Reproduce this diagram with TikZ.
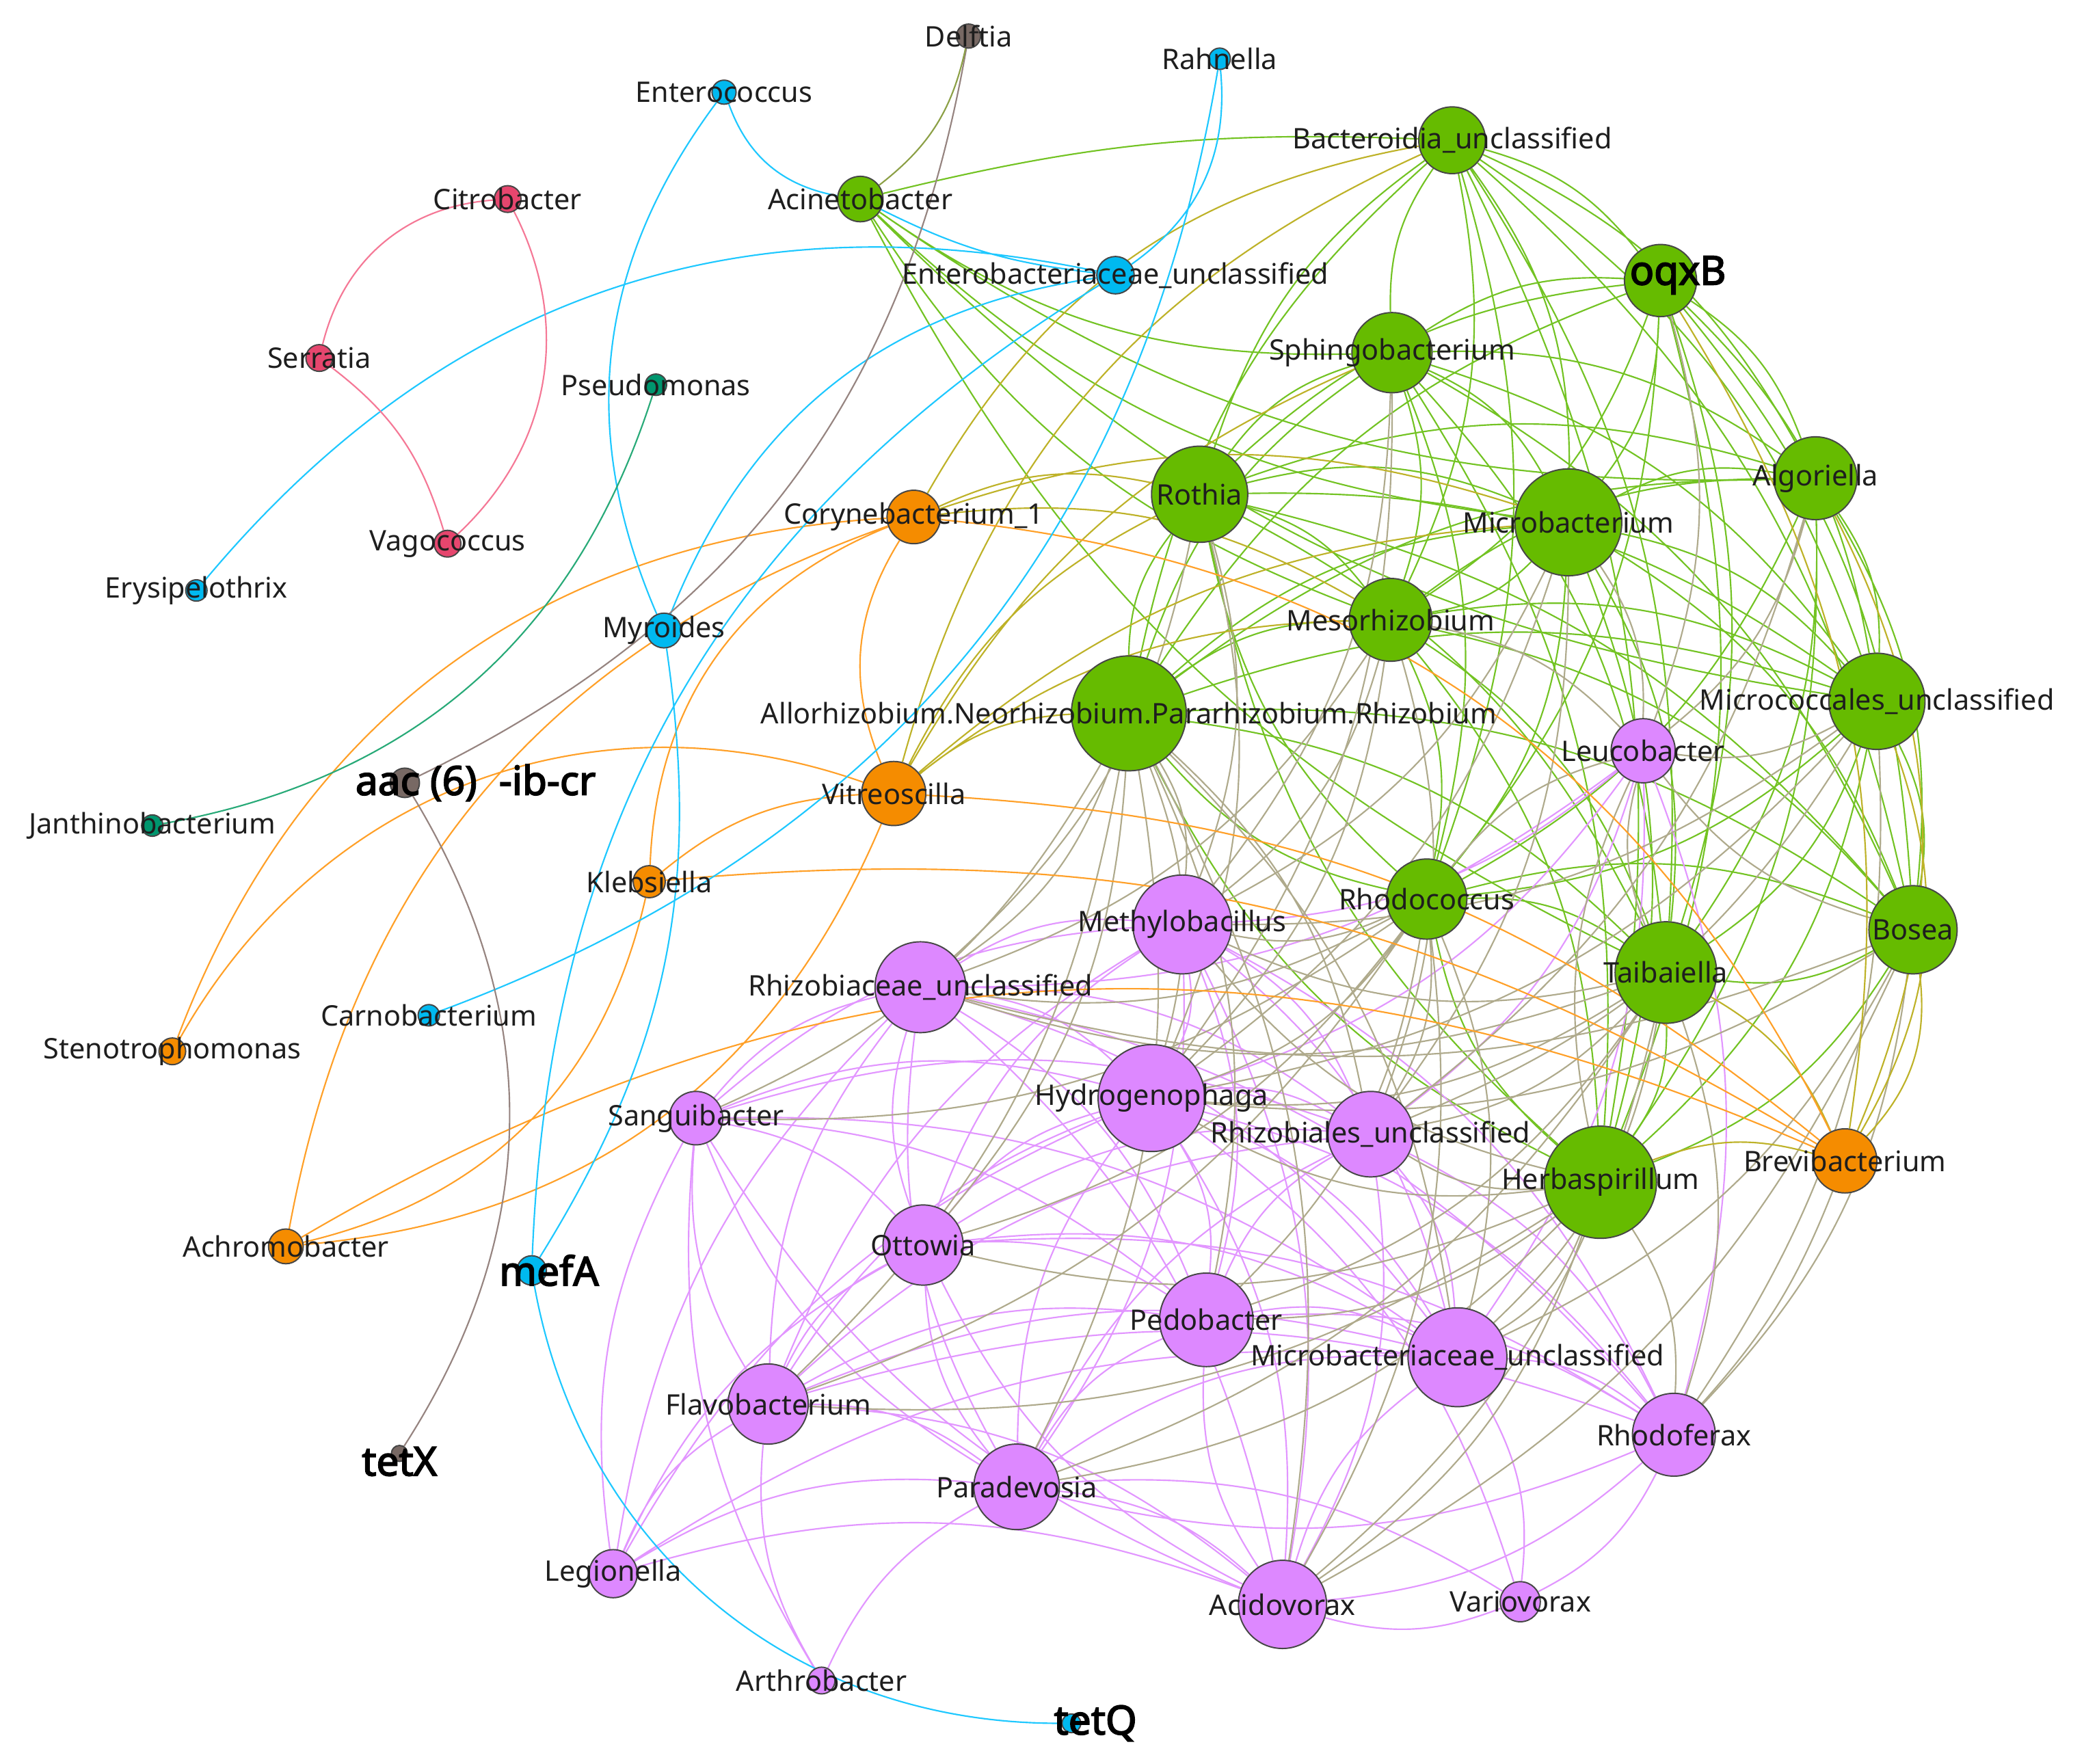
\documentclass[tikz,border=0pt]{standalone}
\usepackage{fontspec}
\setmainfont{Noto Sans}[AutoFakeBold=3]
\definecolor{ngreen}{RGB}{102,187,0}
\definecolor{nviolet}{RGB}{221,136,255}
\definecolor{norange}{RGB}{245,140,0}
\definecolor{ncyan}{RGB}{0,185,240}
\definecolor{npink}{RGB}{230,70,110}
\definecolor{nteal}{RGB}{0,150,110}
\definecolor{nbrown}{RGB}{120,105,100}
\definecolor{nline}{RGB}{70,70,70}
\definecolor{cgreen}{RGB}{115,195,35}
\definecolor{cviolet}{RGB}{226,150,255}
\definecolor{ckhaki}{RGB}{175,170,140}
\definecolor{colive}{RGB}{190,178,40}
\definecolor{corange}{RGB}{255,160,40}
\definecolor{ccyan}{RGB}{30,200,255}
\definecolor{cpink}{RGB}{245,120,150}
\definecolor{cteal}{RGB}{40,170,120}
\definecolor{cbrown}{RGB}{150,132,128}
\definecolor{cdolive}{RGB}{140,160,70}
\definecolor{ltext}{RGB}{30,30,30}
\pgfdeclarelayer{edges}
\pgfsetlayers{edges,main}
\begin{document}
\begin{tikzpicture}[x=0.5pt,y=-0.5pt,
  every node/.style={inner sep=0pt},
  bug/.style={circle,draw=nline,line width=0.5pt,minimum size=#1pt},
  gnode/.style={bug=#1,fill=ngreen},
  vnode/.style={bug=#1,fill=nviolet},
  onode/.style={bug=#1,fill=norange},
  cnode/.style={bug=#1,fill=ncyan},
  pnode/.style={bug=#1,fill=npink},
  tnode/.style={bug=#1,fill=nteal},
  bnode/.style={bug=#1,fill=nbrown},
  lbl/.style={text=ltext,font=\fontsize{10.6}{12}\selectfont},
  gene/.style={text=black,font=\fontsize{15}{18}\selectfont\bfseries},
  edge/.style={line width=0.55pt,bend left=18},
  eg/.style={edge,draw=cgreen},
  ev/.style={edge,draw=cviolet},
  ek/.style={edge,draw=ckhaki},
  eo/.style={edge,draw=colive},
  eor/.style={edge,draw=corange},
  ecy/.style={edge,draw=ccyan},
  epk/.style={edge,draw=cpink},
  etl/.style={edge,draw=cteal},
  ebr/.style={edge,draw=cbrown},
  edb/.style={edge,draw=cdolive}]
\useasboundingbox (0,0) rectangle (1560,1320);
% outer taxa and genes
\node[bnode=9] (de) at (725,27) {};
\node[cnode=9] (en) at (542,69) {};
\node[cnode=8] (ra) at (913,44) {};
\node[pnode=10] (ci) at (380,149) {};
\node[pnode=10] (se) at (239,268) {};
\node[pnode=10] (va) at (335,407) {};
\node[cnode=8] (er) at (147,442) {};
\node[tnode=8] (ps) at (491,288) {};
\node[tnode=8] (ja) at (114,618) {};
\node[gnode=17] (ac) at (644,149) {};
\node[cnode=14] (eb) at (835,206) {};
\node[onode=20] (co) at (684,387) {};
\node[cnode=13] (my) at (497,472) {};
\node[bnode=11] (aa) at (303,586) {};
\node[onode=24] (vi) at (669,594) {};
\node[onode=12] (kl) at (486,660) {};
\node[onode=10] (st) at (129,787) {};
\node[cnode=8] (ca) at (321,760) {};
\node[onode=13] (ah) at (214,933) {};
\node[cnode=11] (mf) at (398,951) {};
\node[bnode=6] (tx) at (299,1088) {};
\node[cnode=7] (tq) at (802,1290) {};
% green module
\node[gnode=25] (bu) at (1087,105) {};
\node[gnode=27] (oq) at (1243,210) {};
\node[gnode=30] (sp) at (1042,264) {};
\node[gnode=36] (ro) at (898,370) {};
\node[gnode=40] (mi) at (1174,391) {};
\node[gnode=31] (al) at (1359,358) {};
\node[gnode=31] (me) at (1041,464) {};
\node[gnode=43] (an) at (845,534) {};
\node[gnode=36] (mc) at (1405,525) {};
\node[gnode=30] (rc) at (1068,673) {};
\node[gnode=38] (ta) at (1247,728) {};
\node[gnode=33] (bo) at (1432,696) {};
\node[gnode=42] (he) at (1198,885) {};
\node[onode=24] (br) at (1381,869) {};
% violet module
\node[vnode=24] (le) at (1230,562) {};
\node[vnode=37] (mb) at (885,692) {};
\node[vnode=34] (rz) at (689,739) {};
\node[vnode=40] (hy) at (862,822) {};
\node[vnode=32] (rb) at (1026,849) {};
\node[vnode=20] (sa) at (521,837) {};
\node[vnode=30] (ot) at (691,932) {};
\node[vnode=35] (pe) at (903,988) {};
\node[vnode=37] (mx) at (1091,1016) {};
\node[vnode=30] (fl) at (575,1051) {};
\node[vnode=31] (rf) at (1253,1074) {};
\node[vnode=32] (pa) at (761,1113) {};
\node[vnode=18] (lg) at (459,1178) {};
\node[vnode=33] (av) at (960,1201) {};
\node[vnode=15] (vv) at (1138,1199) {};
\node[vnode=10] (ar) at (615,1258) {};
\begin{pgfonlayer}{edges}
\fill[white] (0,0) rectangle (1560,1320);
% green - green
\draw[eg] (bu) to (oq) (bu) to (al) (bu) to (mi) (bu) to (mc) (bu) to (bo) (bu) to (ta) (bu) to (he) (bu) to (me) (bu) to (rc) (sp) to (bu) (ro) to (bu) (an) to (bu);
\draw[eg] (oq) to (al) (oq) to (mc) (oq) to (bo) (oq) to (ta) (oq) to (he) (oq) to (rc) (oq) to (mi) (oq) to (me) (sp) to (oq) (ro) to (oq) (an) to (oq);
\draw[eg] (sp) to (mi) (sp) to (al) (sp) to (me) (sp) to (mc) (sp) to (rc) (sp) to (ta) (sp) to (bo) (sp) to (he) (ro) to (sp) (an) to (sp);
\draw[eg] (ro) to (mi) (ro) to (al) (ro) to (me) (ro) to (mc) (ro) to (ta) (ro) to (bo) (an) to (ro) (he) to (ro) (rc) to (ro);
\draw[eg] (mi) to (al) (mi) to (mc) (mi) to (me) (mi) to (bo) (mi) to (ta) (mi) to (he) (mi) to (rc) (an) to (mi);
\draw[eg] (al) to (mc) (al) to (bo) (al) to (ta) (al) to (he) (al) to (rc) (me) to (al) (an) to (al);
\draw[eg] (me) to (mc) (me) to (rc) (me) to (ta) (me) to (bo) (me) to (he) (an) to (me);
\draw[eg] (an) to (mc) (rc) to (an) (an) to (ta) (an) to (bo) (he) to (an);
\draw[eg] (mc) to (rc) (mc) to (ta) (mc) to (bo) (mc) to (he);
\draw[eg] (rc) to (ta) (rc) to (bo) (he) to (rc);
\draw[eg] (bo) to (ta) (bo) to (he) (ta) to (he);
\draw[eg] (ac) to[bend left=8] (bu) (sp) to (ac) (mi) to (ac) (me) to (ac) (al) to (ac) (mc) to (ac) (ta) to (ac);
% violet - violet
\draw[ev] (rz) to (mb) (mb) to (hy) (mb) to (rb) (mb) to (pe) (mb) to (mx) (mb) to (rf) (mb) to (av) (mb) to (pa) (ot) to (mb) (fl) to (mb) (sa) to (mb);
\draw[ev] (rz) to (hy) (rz) to (rb) (rz) to (pe) (rz) to (mx) (rz) to (rf) (rz) to (av) (ot) to (rz) (fl) to (rz) (pa) to (rz) (sa) to (rz);
\draw[ev] (hy) to (rb) (hy) to (mx) (hy) to (rf) (hy) to (pe) (hy) to (av) (ot) to (hy) (sa) to (hy) (fl) to (hy) (pa) to (hy);
\draw[ev] (rb) to (rf) (rb) to (mx) (rb) to (av) (pe) to (rb) (ot) to (rb) (sa) to (rb) (fl) to (rb) (pa) to (rb);
\draw[ev] (sa) to (ot) (sa) to (pe) (fl) to (sa) (pa) to (sa) (av) to (sa) (sa) to (mx);
\draw[ev] (ot) to (pe) (ot) to (mx) (ot) to (rf) (fl) to (ot) (pa) to (ot) (av) to (ot);
\draw[ev] (pe) to (mx) (pe) to (rf) (fl) to (pe) (pa) to (pe) (av) to (pe);
\draw[ev] (mx) to (rf) (fl) to (mx) (pa) to (mx) (av) to (mx);
\draw[ev] (fl) to (rf) (fl) to (pa) (fl) to (av) (rf) to (av) (rf) to (pa) (pa) to (av);
\draw[ev] (le) to (mb) (le) to (rz) (le) to (rb) (le) to (rf) (le) to (hy) (le) to (mx);
\draw[ev] (lg) to (sa) (lg) to (fl) (lg) to (ot) (lg) to (pa) (lg) to (av) (lg) to (rz) (lg) to (hy) (lg) to (mx);
\draw[ev] (vv) to (av) (rf) to (vv) (mx) to (vv) (pa) to (vv) (hy) to (vv);
\draw[ev] (ar) to (sa) (ar) to (fl) (ar) to (pa);
% green - violet
\draw[ek] (an) to (mb) (an) to (rz) (an) to (hy) (an) to (rb) (an) to (ot) (an) to (pe) (an) to (mx) (an) to (fl) (an) to (pa) (an) to (av) (an) to (sa);
\draw[ek] (rc) to (mb) (rc) to (hy) (rc) to (rb) (rc) to (mx) (rc) to (pe) (rc) to (av) (rc) to (ot) (rc) to (rz) (rc) to (le) (rc) to (fl) (rc) to (sa);
\draw[ek] (ta) to (mb) (ta) to (hy) (ta) to (rb) (ta) to (mx) (ta) to (rf) (ta) to (le) (ta) to (rz) (ta) to (av) (ta) to (pe) (ta) to (pa);
\draw[ek] (he) to (hy) (he) to (rb) (he) to (mx) (he) to (rf) (he) to (av) (he) to (pe) (he) to (mb) (he) to (pa) (he) to (le) (he) to (ot) (he) to (fl);
\draw[ek] (me) to (mb) (me) to (hy) (me) to (rb) (me) to (le) (me) to (rz) (mi) to (le) (mi) to (mb) (mi) to (rb) (mi) to (hy);
\draw[ek] (mc) to (le) (mc) to (rb) (mc) to (mb) (mc) to (hy) (mc) to (rf) (bo) to (le) (bo) to (hy) (bo) to (rz) (bo) to (rf) (bo) to (mx) (bo) to (av);
\draw[ek] (ro) to (mb) (ro) to (rz) (ro) to (hy) (al) to (le) (al) to (rb) (sp) to (mb) (sp) to (hy) (oq) to (le);
\draw[ek] (br) to[bend left=10] (rf);
% green - orange
\draw[eo] (vi) to[bend left=25] (bu) (vi) to (sp) (vi) to (ro) (vi) to (an) (vi) to (me) (vi) to (mi) (co) to (ro) (co) to (me) (co) to (mi) (co) to[bend left=25] (bu);
\draw[eo] (bo) to[bend left=25] (br) (mc) to[bend left=25] (br) (al) to[bend left=25] (br) (oq) to[bend left=20] (br) (ta) to (br) (he) to (br);
% orange
\draw[eor] (vi) to[bend left=27] (co) (st) to[bend left=33] (co) (ah) to[bend left=30] (co) (kl) to[bend left=33] (co) (co) to[bend left=29] (br) (vi) to (br) (kl) to (br) (ah) to[bend left=27] (br) (st) to[bend left=40] (vi) (vi) to[bend left=31] (ah) (kl) to[bend left=32] (ah) (kl) to (vi);
% cyan
\draw[ecy] (my) to[bend left=30] (en) (ac) to[bend left=30] (en) (er) to[bend left=31] (eb) (ra) to[bend left=30] (eb) (ra) to[bend left=30] (ca) (my) to[bend left=30] (eb) (mf) to[bend left=28] (eb) (my) to[bend left=20] (mf) (tq) to[bend left=40] (mf) (eb) to[bend left=10] (ac);
% others
\draw[ebr] (de) to[bend left=27] (aa) (aa) to[bend left=32] (tx);
\draw[edb] (de) to[bend left=20] (ac);
\draw[etl] (ps) to[bend left=31] (ja);
\draw[epk] (ci) to[bend left=37] (va) (se) to[bend left=36] (ci) (se) to[bend left=18] (va);
\end{pgfonlayer}
% labels
\node[lbl] (de-t) at (de) {Delftia};
\node[lbl] (en-t) at (en) {Enterococcus};
\node[lbl] (ra-t) at (ra) {Rahnella};
\node[lbl] (ci-t) at (ci) {Citrobacter};
\node[lbl] (se-t) at (se) {Serratia};
\node[lbl] (va-t) at (va) {Vagococcus};
\node[lbl] (er-t) at (er) {Erysipelothrix};
\node[lbl] (ps-t) at (ps) {Pseudomonas};
\node[lbl] (ja-t) at (ja) {Janthinobacterium};
\node[lbl] (ac-t) at (ac) {Acinetobacter};
\node[lbl] (eb-t) at (eb) {Enterobacteriaceae\_unclassified};
\node[lbl] (co-t) at (co) {Corynebacterium\_1};
\node[lbl] (my-t) at (my) {Myroides};
\node[gene] (aa-t) at (356,586) {aac (6)\hspace{0.55em}-ib-cr};
\node[lbl] (vi-t) at (vi) {Vitreoscilla};
\node[lbl] (kl-t) at (kl) {Klebsiella};
\node[lbl] (st-t) at (st) {Stenotrophomonas};
\node[lbl] (ca-t) at (ca) {Carnobacterium};
\node[lbl] (ah-t) at (ah) {Achromobacter};
\node[gene] (mf-t) at (411,951) {mefA};
\node[gene] (tx-t) at (299,1094) {tetX};
\node[gene] (tq-t) at (820,1290) {tetQ};
\node[lbl] (bu-t) at (bu) {Bacteroidia\_unclassified};
\node[gene] (oq-t) at (1256,206) {oqxB};
\node[lbl] (sp-t) at (sp) {Sphingobacterium};
\node[lbl] (ro-t) at (ro) {Rothia};
\node[lbl] (mi-t) at (mi) {Microbacterium};
\node[lbl] (al-t) at (al) {Algoriella};
\node[lbl] (me-t) at (me) {Mesorhizobium};
\node[lbl] (an-t) at (an) {Allorhizobium.Neorhizobium.Pararhizobium.Rhizobium};
\node[lbl] (mc-t) at (mc) {Micrococcales\_unclassified};
\node[lbl] (rc-t) at (rc) {Rhodococcus};
\node[lbl] (ta-t) at (ta) {Taibaiella};
\node[lbl] (bo-t) at (bo) {Bosea};
\node[lbl] (he-t) at (he) {Herbaspirillum};
\node[lbl] (br-t) at (br) {Brevibacterium};
\node[lbl] (le-t) at (le) {Leucobacter};
\node[lbl] (mb-t) at (mb) {Methylobacillus};
\node[lbl] (rz-t) at (rz) {Rhizobiaceae\_unclassified};
\node[lbl] (hy-t) at (hy) {Hydrogenophaga};
\node[lbl] (rb-t) at (rb) {Rhizobiales\_unclassified};
\node[lbl] (sa-t) at (sa) {Sanguibacter};
\node[lbl] (ot-t) at (ot) {Ottowia};
\node[lbl] (pe-t) at (pe) {Pedobacter};
\node[lbl] (mx-t) at (mx) {Microbacteriaceae\_unclassified};
\node[lbl] (fl-t) at (fl) {Flavobacterium};
\node[lbl] (rf-t) at (rf) {Rhodoferax};
\node[lbl] (pa-t) at (pa) {Paradevosia};
\node[lbl] (lg-t) at (lg) {Legionella};
\node[lbl] (av-t) at (av) {Acidovorax};
\node[lbl] (vv-t) at (vv) {Variovorax};
\node[lbl] (ar-t) at (ar) {Arthrobacter};
\end{tikzpicture}
\end{document}
